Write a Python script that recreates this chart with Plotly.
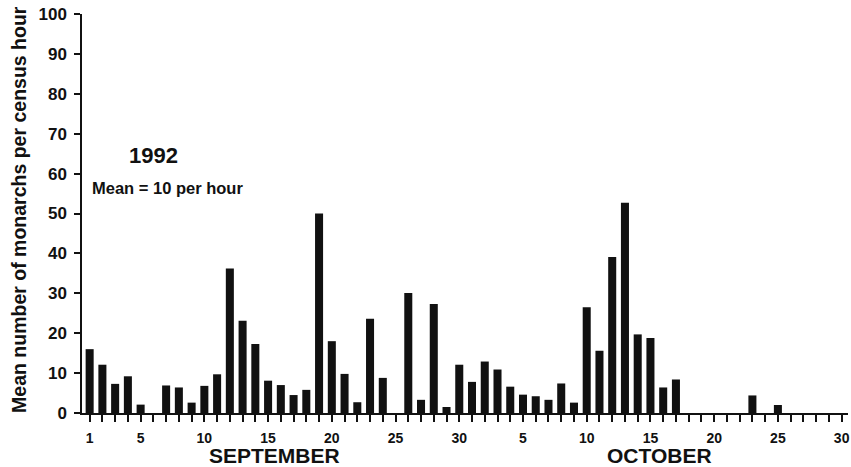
import plotly.graph_objects as go

# Mean number of monarchs per census hour, 1992
sep_values = [16.0, 12.1, 7.3, 9.2, 2.1, 0, 6.9, 6.4, 2.6, 6.8,
              9.7, 36.2, 23.1, 17.3, 8.1, 7.0, 4.5, 5.8, 50.0, 18.0,
              9.8, 2.7, 23.6, 8.8, 0, 30.1, 3.3, 27.3, 1.5, 12.1]
oct_values = [7.8, 12.9, 10.9, 6.6, 4.6, 4.2, 3.3, 7.4, 2.6, 26.5,
              15.6, 39.1, 52.7, 19.7, 18.8, 6.4, 8.4, 0, 0, 0,
              0, 0, 4.4, 0, 2.0, 0, 0, 0, 0, 0]
sep_labels = {1: "1", 5: "5", 10: "10", 15: "15", 20: "20", 25: "25", 30: "30"}
oct_labels = {5: "5", 10: "10", 15: "15", 20: "20", 25: "25", 30: "30"}
y_ticks = list(range(0, 101, 10))
months = ["SEPTEMBER", "OCTOBER"]

n_sep = len(sep_values)
values = sep_values + oct_values
xs = list(range(len(values)))
tick_text = []
for i in xs:
    if i < n_sep:
        tick_text.append(sep_labels.get(i + 1, ""))
    else:
        tick_text.append(oct_labels.get(i - n_sep + 1, ""))

font = "Liberation Sans, Arial, Helvetica, sans-serif"

fig = go.Figure()
fig.add_trace(go.Bar(x=xs, y=values, marker=dict(color="#111111", line=dict(width=0)),
                     width=0.63))

fig.update_layout(
    width=851, height=467,
    margin=dict(l=82, r=3, t=14, b=54),
    paper_bgcolor="white", plot_bgcolor="white",
    showlegend=False,
    font=dict(family=font, color="#111111"),
)
fig.update_xaxes(
    range=[-0.6, 59.5], tickmode="array", tickvals=xs, ticktext=tick_text,
    ticks="outside", ticklen=7, tickwidth=1.5, tickcolor="#111111",
    showline=True, linecolor="#111111", linewidth=1.5,
    showgrid=False, zeroline=False, automargin=False,
    ticklabelstandoff=4,
    tickfont=dict(size=14, weight="bold", family=font),
)
fig.update_yaxes(
    range=[0, 100], tickvals=y_ticks,
    ticks="outside", ticklen=6, tickwidth=1.5, tickcolor="#111111",
    showline=True, linecolor="#111111", linewidth=1.5,
    showgrid=False, zeroline=False, automargin=False,
    ticklabelstandoff=4,
    tickfont=dict(size=17, weight="bold", family=font),
)

fig.add_annotation(text="Mean number of monarchs per census hour", textangle=-90,
                   xref="paper", yref="paper", x=-0.083, y=0.51,
                   xanchor="center", yanchor="middle", showarrow=False,
                   font=dict(size=19.5, family=font, weight="bold"))
fig.add_annotation(text="1992", xref="paper", yref="y", x=0.093, y=64.5,
                   xanchor="center", yanchor="middle", showarrow=False,
                   font=dict(size=22, weight="bold", family=font))
fig.add_annotation(text="Mean = 10 per hour", xref="paper", yref="y", x=0.011, y=56.5,
                   xanchor="left", yanchor="middle", showarrow=False,
                   font=dict(size=16.5, weight="bold", family=font))
fig.add_annotation(text=months[0], xref="x", yref="paper", x=14.5, y=-0.107,
                   xanchor="center", yanchor="middle", showarrow=False,
                   font=dict(size=21, weight="bold", family=font))
fig.add_annotation(text=months[1], xref="x", yref="paper", x=44.7, y=-0.107,
                   xanchor="center", yanchor="middle", showarrow=False,
                   font=dict(size=21, weight="bold", family=font))

fig.write_html("out.html", config={"displayModeBar": False},
               post_script="document.body.style.margin='0';document.body.style.overflow='hidden';")
